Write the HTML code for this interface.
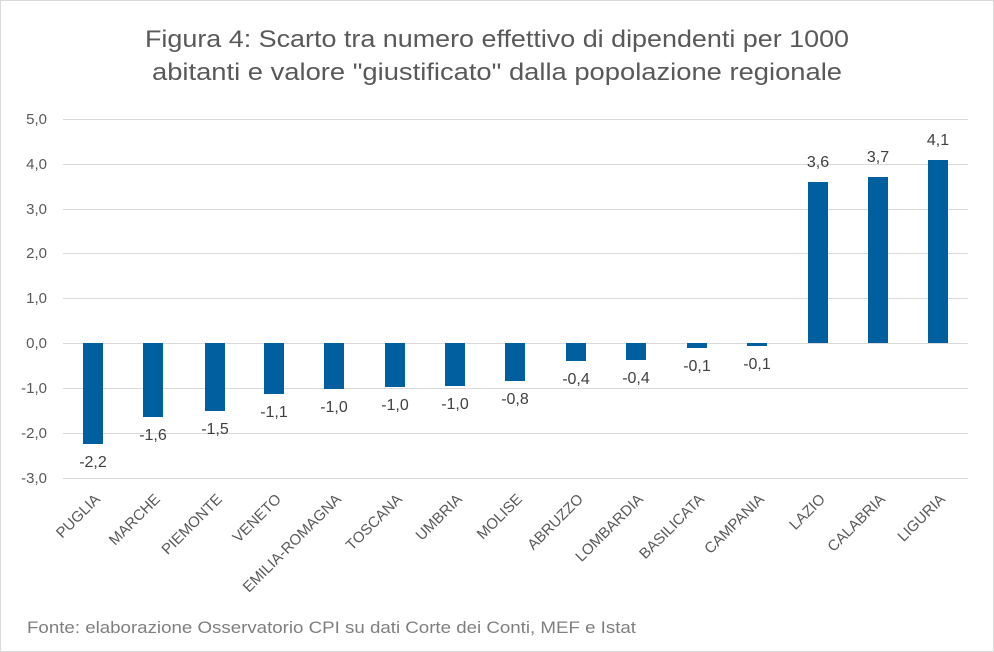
<!DOCTYPE html>
<html><head><meta charset="utf-8"><style>
body{margin:0;background:#fff}
svg{display:block;font-family:"Liberation Sans",Arial,sans-serif}
</style></head><body>
<svg width="994" height="652" viewBox="0 0 994 652" xmlns="http://www.w3.org/2000/svg">
<rect x="0.5" y="0.5" width="993" height="651" fill="#fff" stroke="#d9d9d9"/>
<text x="497" y="47" text-anchor="middle" font-size="24" fill="#595959" textLength="704" lengthAdjust="spacingAndGlyphs">Figura 4: Scarto tra numero effettivo di dipendenti per 1000</text>
<text x="497" y="80" text-anchor="middle" font-size="24" fill="#595959" textLength="690" lengthAdjust="spacingAndGlyphs">abitanti e valore "giustificato" dalla popolazione regionale</text>
<g stroke="#d9d9d9" stroke-width="1">
<line x1="63" x2="968" y1="119.5" y2="119.5"/><line x1="63" x2="968" y1="164.5" y2="164.5"/>
<line x1="63" x2="968" y1="209.5" y2="209.5"/><line x1="63" x2="968" y1="253.5" y2="253.5"/>
<line x1="63" x2="968" y1="298.5" y2="298.5"/><line x1="63" x2="968" y1="343.5" y2="343.5"/>
<line x1="63" x2="968" y1="388.5" y2="388.5"/><line x1="63" x2="968" y1="433.5" y2="433.5"/>
<line x1="63" x2="968" y1="478.5" y2="478.5"/>
</g>
<g font-size="15" fill="#595959" text-anchor="end">
<text x="47" y="124">5,0</text><text x="47" y="169">4,0</text><text x="47" y="214">3,0</text>
<text x="47" y="258">2,0</text><text x="47" y="303">1,0</text><text x="47" y="348">0,0</text>
<text x="47" y="393">-1,0</text><text x="47" y="438">-2,0</text><text x="47" y="483">-3,0</text>
</g>
<g fill="#005f9e">
<rect x="83" y="343" width="20" height="101"/>
<rect x="143" y="343" width="20" height="74"/>
<rect x="205" y="343" width="20" height="68"/>
<rect x="264" y="343" width="20" height="51"/>
<rect x="324" y="343" width="20" height="46"/>
<rect x="385" y="343" width="20" height="44"/>
<rect x="445" y="343" width="20" height="43"/>
<rect x="505" y="343" width="20" height="38"/>
<rect x="566" y="343" width="20" height="18"/>
<rect x="626" y="343" width="20" height="17"/>
<rect x="687" y="343" width="20" height="5"/>
<rect x="747" y="343" width="20" height="3"/>
<rect x="808" y="182" width="20" height="161"/>
<rect x="868" y="177" width="20" height="166"/>
<rect x="928" y="160" width="20" height="183"/>
</g>
<g font-size="16" fill="#404040" text-anchor="middle">
<text x="93" y="467">-2,2</text><text x="153" y="440">-1,6</text><text x="215" y="434">-1,5</text>
<text x="274" y="417">-1,1</text><text x="334" y="412">-1,0</text><text x="395" y="410">-1,0</text>
<text x="455" y="409">-1,0</text><text x="515" y="404">-0,8</text><text x="576" y="384">-0,4</text>
<text x="636" y="383">-0,4</text><text x="697" y="371">-0,1</text><text x="757" y="369">-0,1</text>
<text x="818" y="167">3,6</text><text x="878" y="162">3,7</text><text x="938" y="145">4,1</text>
</g>
<g font-size="15" fill="#595959" text-anchor="end">
<text transform="translate(101,500) rotate(-45)">PUGLIA</text>
<text transform="translate(161,500) rotate(-45)">MARCHE</text>
<text transform="translate(223,500) rotate(-45)">PIEMONTE</text>
<text transform="translate(282,500) rotate(-45)">VENETO</text>
<text transform="translate(342,500) rotate(-45)">EMILIA-ROMAGNA</text>
<text transform="translate(403,500) rotate(-45)">TOSCANA</text>
<text transform="translate(463,500) rotate(-45)">UMBRIA</text>
<text transform="translate(523,500) rotate(-45)">MOLISE</text>
<text transform="translate(584,500) rotate(-45)">ABRUZZO</text>
<text transform="translate(644,500) rotate(-45)">LOMBARDIA</text>
<text transform="translate(705,500) rotate(-45)">BASILICATA</text>
<text transform="translate(765,500) rotate(-45)">CAMPANIA</text>
<text transform="translate(826,500) rotate(-45)">LAZIO</text>
<text transform="translate(886,500) rotate(-45)">CALABRIA</text>
<text transform="translate(946,500) rotate(-45)">LIGURIA</text>
</g>
<text x="27" y="633" font-size="17" fill="#7f7f7f" textLength="609" lengthAdjust="spacingAndGlyphs">Fonte: elaborazione Osservatorio CPI su dati Corte dei Conti, MEF e Istat</text>
</svg>
</body></html>
